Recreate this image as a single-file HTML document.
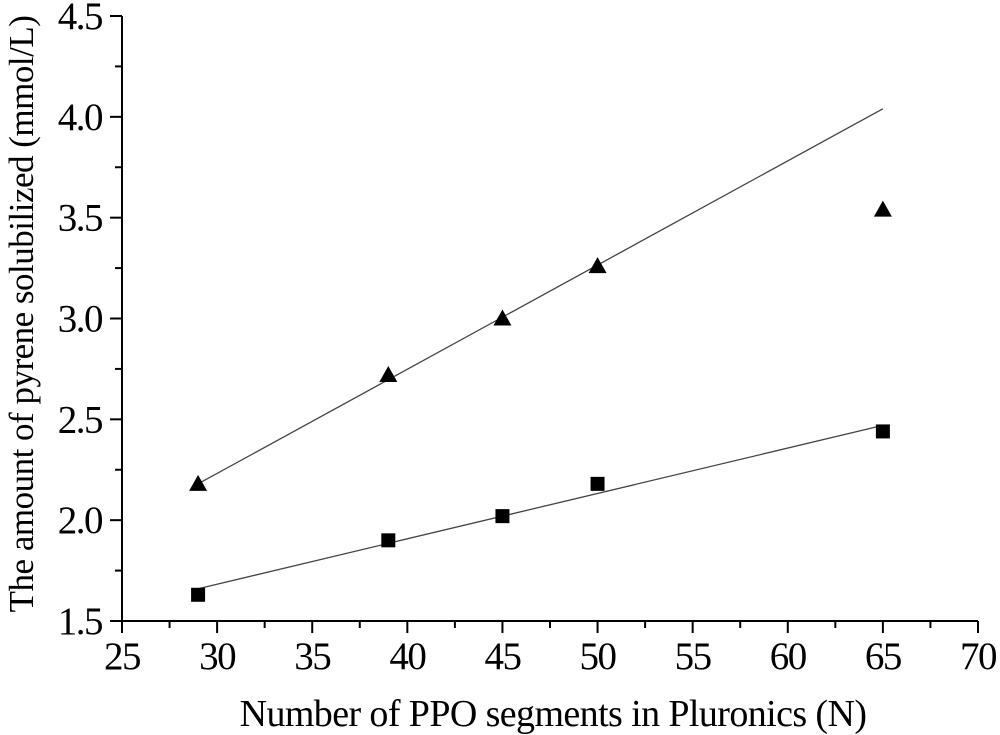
<!DOCTYPE html>
<html><head><meta charset="utf-8"><style>
body{margin:0;background:#fff}
svg{display:block;font-family:"Liberation Serif",serif}
</style></head><body>
<svg id="c" width="1000" height="735"></svg>
<script>
const xTicks=[25,30,35,40,45,50,55,60,65,70];
const yTicks=[1.5,2.0,2.5,3.0,3.5,4.0,4.5];
const nVals=[29,39,45,50,65];
const triVals=[2.18,2.72,3.0,3.26,3.54];
const sqVals=[1.63,1.90,2.02,2.18,2.44];
const triFit=[[29,2.18],[65,4.04]];
const sqFit=[[29,1.66],[65,2.47]];
const NS='http://www.w3.org/2000/svg';
const svg=document.getElementById('c');
const X=v=>122+(v-25)*(978-122)/45;
const Y=v=>621-(v-1.5)*(621-16)/3;
function mk(t,a,p){const e=document.createElementNS(NS,t);for(const k in a)e.setAttribute(k,a[k]);(p||svg).appendChild(e);return e;}
let e;
e=mk('line',{x1:122,y1:621,x2:978,y2:621,stroke:'#000','stroke-width':2});


e=mk('line',{x1:122,y1:16,x2:122,y2:621,stroke:'#000','stroke-width':2});


xTicks.forEach((t,i)=>{
  e=mk('line',{x1:X(t),y1:621,x2:X(t),y2:633,stroke:'#000','stroke-width':2});
  
  
  if(i<xTicks.length-1){e=mk('line',{x1:X(t+2.5),y1:621,x2:X(t+2.5),y2:628,stroke:'#000','stroke-width':2});
  
  }
  e=mk('text',{x:X(t),y:669,'font-size':39,'letter-spacing':-1.5,'text-anchor':'middle'});e.textContent=t;
  
  
});
yTicks.forEach((t,i)=>{
  e=mk('line',{x1:110,y1:Y(t),x2:122,y2:Y(t),stroke:'#000','stroke-width':2});
  
  
  if(i<yTicks.length-1){e=mk('line',{x1:115,y1:Y(t+0.25),x2:122,y2:Y(t+0.25),stroke:'#000','stroke-width':2});
  
  }
  e=mk('text',{x:102,y:Y(t)+13,'font-size':39,'letter-spacing':-1.5,'text-anchor':'end'});e.textContent=t.toFixed(1);
  
  
});
e=mk('text',{x:553,y:726,'font-size':38,'letter-spacing':-0.6,'text-anchor':'middle'});e.textContent='Number of PPO segments in Pluronics (N)';


e=mk('text',{x:0,y:0,'font-size':35,'letter-spacing':-0.5,'text-anchor':'middle',transform:'translate(33,314) rotate(-90)'});e.textContent='The amount of pyrene solubilized (mmol/L)';


[[triFit,'fit-line-triangle'],[sqFit,'fit-line-square']].forEach(([f,n])=>{
  e=mk('line',{x1:X(f[0][0]),y1:Y(f[0][1]),x2:X(f[1][0]),y2:Y(f[1][1]),stroke:'#444','stroke-width':1.3});
  
  
});
nVals.forEach((n,i)=>{
  const x=X(n),y=Y(triVals[i]);
  e=mk('polygon',{points:`${x},${y-9} ${x-9},${y+7} ${x+9},${y+7}`,fill:'#000'});
  
  
  const y2=Y(sqVals[i]);
  e=mk('rect',{x:x-7,y:y2-7,width:14,height:14,fill:'#000'});
  
  
});
</script>
</body></html>
